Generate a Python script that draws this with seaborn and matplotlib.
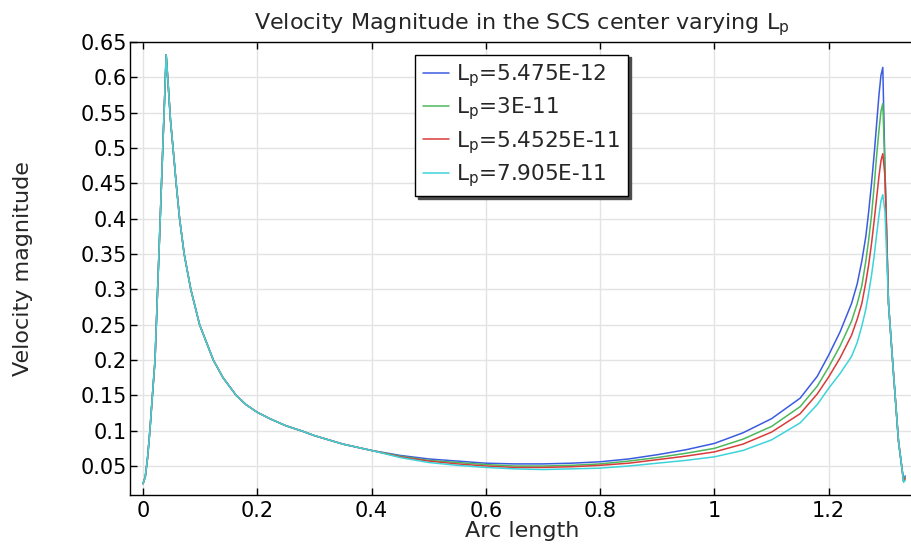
import numpy as np
import pandas as pd
import matplotlib
matplotlib.use("Agg")
import matplotlib.pyplot as plt
import seaborn as sns

# ---- data ----
# common part (all four curves overlap here)
x_left = [0, 0.004, 0.008, 0.012, 0.016, 0.021, 0.026, 0.031, 0.035, 0.038, 0.0405,
          0.044, 0.048, 0.0544, 0.058, 0.064, 0.072, 0.0836, 0.099, 0.123, 0.14, 0.163,
          0.18, 0.2, 0.222, 0.25, 0.28, 0.3, 0.35, 0.4]
y_left = [0.025, 0.035, 0.062, 0.10, 0.145, 0.20, 0.31, 0.42, 0.51, 0.575, 0.632,
          0.59, 0.54, 0.483, 0.45, 0.40, 0.35, 0.30, 0.25, 0.20, 0.175, 0.15,
          0.137, 0.126, 0.117, 0.107, 0.099, 0.093, 0.081, 0.072]

x_right = [0.45, 0.5, 0.55, 0.6, 0.65, 0.7, 0.75, 0.8, 0.85, 0.9, 0.95, 1.0, 1.05,
           1.1, 1.15, 1.18, 1.2, 1.22, 1.24, 1.25, 1.258, 1.265, 1.27, 1.275, 1.28,
           1.284, 1.288, 1.2915, 1.2947, 1.2985, 1.3047, 1.3135, 1.3222, 1.3285,
           1.331, 1.334]
y_blue = [.065, .060, .057, .054, .053, .053, .054, .056, .060, .066, .073, .082, .097,
          .117, .146, .177, .207, .24, .28, .308, .34, .375, .41, .45, .495,
          .535, .575, .603, .614, .47, .28, .18, .085, .045, .030, .036]
y_green = [.064, .058, .055, .052, .050, .050, .051, .053, .057, .062, .068, .075, .088,
           .106, .134, .163, .19, .22, .255, .28, .305, .34, .37, .405, .45,
           .49, .525, .552, .563, .47, .28, .18, .085, .045, .029, .034]
y_red = [.063, .057, .053, .050, .048, .048, .049, .051, .054, .059, .064, .070, .081,
         .098, .124, .152, .176, .203, .235, .258, .28, .31, .335, .365, .40,
         .43, .46, .482, .492, .46, .28, .18, .085, .045, .028, .032]
y_cyan = [.062, .055, .051, .048, .046, .045, .046, .047, .050, .054, .058, .063, .072,
          .087, .111, .137, .16, .181, .205, .225, .248, .272, .295, .32, .35,
          .378, .405, .425, .434, .41, .28, .18, .085, .045, .027, .030]

labels = [r"L$_\mathregular{p}$=5.475E-12", r"L$_\mathregular{p}$=3E-11",
          r"L$_\mathregular{p}$=5.4525E-11", r"L$_\mathregular{p}$=7.905E-11"]
colors = ["#3b5ce0", "#4cb85c", "#d93b3b", "#3dd3da"]
x_ticks = [0, 0.2, 0.4, 0.6, 0.8, 1, 1.2]
x_tick_labels = ["0", "0.2", "0.4", "0.6", "0.8", "1", "1.2"]
y_ticks = [0.05, 0.1, 0.15, 0.2, 0.25, 0.3, 0.35, 0.4, 0.45, 0.5, 0.55, 0.6, 0.65]
y_tick_labels = ["0.05", "0.1", "0.15", "0.2", "0.25", "0.3", "0.35", "0.4",
                 "0.45", "0.5", "0.55", "0.6", "0.65"]

rows = []
for lab, yr in zip(labels, [y_blue, y_green, y_red, y_cyan]):
    xs = x_left + x_right
    ys = y_left + yr
    for i, (a, b) in enumerate(zip(xs, ys)):
        rows.append({"arc": a, "vel": b, "series": lab, "order": i})
df = pd.DataFrame(rows)

sns.set_style("white")
plt.rcParams["font.family"] = ["DejaVu Sans"]
plt.rcParams["mathtext.fontset"] = "dejavusans"

fig = plt.figure(figsize=(9.12, 5.48), dpi=100)
ax = fig.add_axes([130 / 912, 1 - 495 / 548, 1 - 130 / 912 + 0.002, (495 - 42) / 548])

sns.lineplot(data=df, x="arc", y="vel", hue="series", palette=colors,
             hue_order=labels, sort=False, estimator=None, units="series",
             linewidth=1.1, ax=ax)

ax.set_xlim(-0.0228, 1.349)
ax.set_ylim(0.009, 0.65)
ax.set_xticks(x_ticks)
ax.set_xticklabels(x_tick_labels)
ax.set_yticks(y_ticks)
ax.set_yticklabels(y_tick_labels)
ax.grid(True, color="#e3e3e3", linewidth=1.0)
ax.set_axisbelow(True)
ax.tick_params(axis="both", direction="in", length=5, width=1, colors="black",
               labelsize=15, top=True, bottom=True, left=True, right=False)
ax.tick_params(axis="x", pad=4)
ax.tick_params(axis="y", pad=2)
for s in ["left", "bottom", "top"]:
    ax.spines[s].set_color("black")
    ax.spines[s].set_linewidth(1)
ax.spines["right"].set_visible(False)

ax.set_xlabel("Arc length", fontsize=16, labelpad=0)
ax.set_ylabel("Velocity magnitude", fontsize=16, labelpad=34)
ax.set_title(r"Velocity Magnitude in the SCS center varying L$_\mathregular{p}$",
             fontsize=16, pad=9)

leg = ax.legend(loc="upper left", bbox_to_anchor=(0.364, 0.972), borderaxespad=0,
                fancybox=False, shadow={"color": "0.3", "alpha": 1},
                framealpha=1, edgecolor="black",
                fontsize=15.5, handlelength=1.2, handletextpad=0.35,
                labelspacing=0.3, borderpad=0.35)
leg.get_frame().set_linewidth(1)

fig.savefig("out.png", dpi=100)
